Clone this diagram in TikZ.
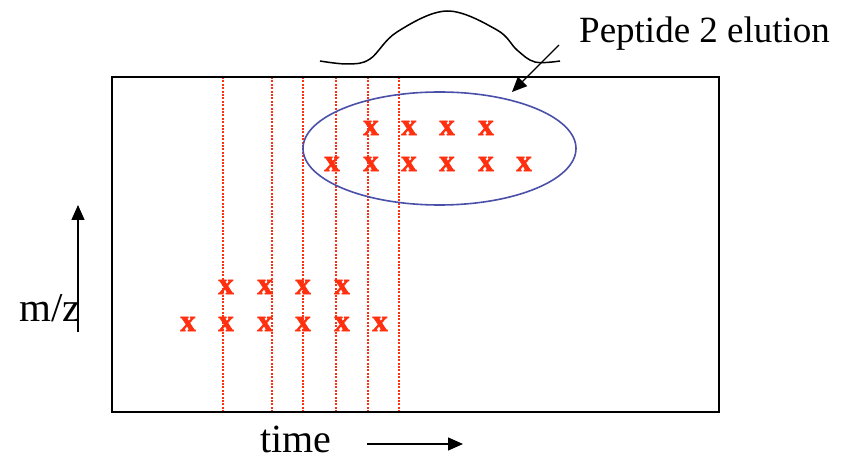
\documentclass[tikz,border=0pt]{standalone}
\usepackage{fontspec}
\setmainfont{Liberation Serif}
\newfontfamily\xmarkfont[FakeBold=2.2]{Liberation Serif Bold}
\usetikzlibrary{arrows.meta}
\definecolor{xred}{HTML}{FF3010}
\definecolor{ellblue}{HTML}{4A4FA8}
\begin{document}
\begin{tikzpicture}[x=1pt,y=-1pt,
  xmark/.style={text=xred,font=\xmarkfont\fontsize{31}{31}\selectfont,inner sep=0pt},
  scanline/.style={draw=xred,line width=1.3pt,dash pattern=on 2pt off 1.4pt},
  txtlabel/.style={font=\fontsize{41}{41}\selectfont,inner sep=0pt,anchor=base west},
  arr/.style={line width=1.3pt,-{Triangle[length=15pt,width=13pt]}}]
\useasboundingbox (0,0) rectangle (844,462);
% scan lines
\foreach \sx in {223,272,303,336,368,399}
  \draw[scanline] (\sx,77) -- (\sx,412);
% frame
\draw[line width=2pt] (112,77) rectangle (719,412);
% x marks
\foreach \mx in {371,409,447,486} \node[xmark] at (\mx,128) {x};
\foreach \mx in {332,371,409,447,486,524} \node[xmark] at (\mx,164) {x};
\foreach \mx in {226,265,303,342} \node[xmark] at (\mx,287) {x};
\foreach \mx in {188,226,265,303,342,380} \node[xmark] at (\mx,324) {x};
% ellipse
\draw[ellblue,line width=1.6pt] (439.5,148.5) ellipse [x radius=136.5, y radius=56.5];
% elution peak
\draw[line width=1.5pt] plot[smooth,tension=0.6] coordinates {(320,61) (348,64) (370,59) (397,32) (447,11) (497,30) (517,50) (535,62) (560,61)};
% label and arrow
\node[txtlabel,font=\fontsize{37}{37}\selectfont] (pep) at (579,43) {Peptide 2 elution};
\coordinate (pa) at (559,45);
\coordinate (pb) at (512,92);
\draw[arr] (pa) -- (pb);
% axes labels
\node[txtlabel] (mz) at (19,322) {m/z};
\coordinate (mza) at (78,332);
\coordinate (mzb) at (78,205);
\draw[arr] (mza) -- (mzb);
\node[txtlabel,font=\fontsize{40}{40}\selectfont] (time) at (260,453) {time};
\coordinate (ta) at (367,444);
\coordinate (tb) at (463,444);
\draw[arr] (ta) -- (tb);
\end{tikzpicture}
\end{document}
